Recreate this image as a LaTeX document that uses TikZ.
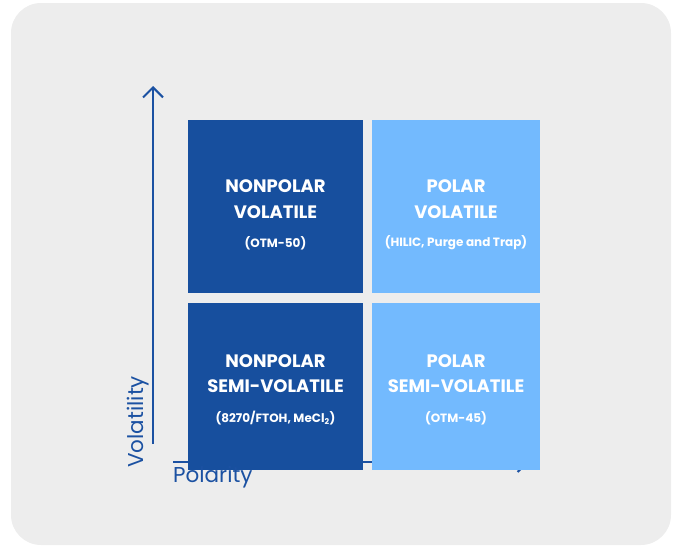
\documentclass[tikz,border=0pt]{standalone}
\usepackage{fontspec}
\setmainfont{Poppins}
\usetikzlibrary{arrows.meta}
\definecolor{card}{HTML}{EDEDED}
\definecolor{darkq}{HTML}{174F9E}
\definecolor{lightq}{HTML}{73BAFE}
\definecolor{axisc}{HTML}{1B51A2}
\tikzset{
  quad/.style={draw=none,minimum width=175pt,minimum height=173pt,inner sep=0pt},
  ttl/.style={text=white,font=\fontsize{18}{20}\selectfont\bfseries,inner sep=0pt},
  sub/.style={text=white,font=\fontsize{12}{14}\selectfont\bfseries,inner sep=0pt},
  axis/.style={draw=axisc,line width=2pt},
  axlab/.style={text=axisc,font=\fontsize{21.5}{24}\selectfont,inner sep=0pt}
}
\begin{document}
\begin{tikzpicture}[x=1pt,y=-1pt]
\useasboundingbox (0,0) rectangle (678,546);
\fill[card,rounded corners=30pt] (11,3) rectangle (671,545);
% axes
\coordinate (yb) at (153,444);
\coordinate (yt) at (153,86);
\coordinate (xl) at (173,462);
\coordinate (xr) at (529,462);
\draw[axis,-{Straight Barb[length=10pt,width=20pt]}] (yb) -- (yt);
\draw[axis,-{Straight Barb[length=10pt,width=20pt]}] (xl) -- (xr);
% quadrants
\node[quad,fill=darkq]  (q1) at (275.5,206.5) {};
\node[quad,fill=lightq,minimum width=168pt] (q2) at (456,206.5) {};
\node[quad,fill=darkq,minimum height=167pt]  (q3) at (275.5,386.5) {};
\node[quad,fill=lightq,minimum width=168pt,minimum height=167pt] (q4) at (456,386.5) {};
% texts
\node[ttl] (t1a) at ([yshift=20.5pt]q1.center) {NONPOLAR};
\node[ttl] (t1b) at ([yshift=-5.5pt]q1.center) {VOLATILE};
\node[sub] (t1c) at ([yshift=-36.5pt]q1.center) {(OTM-50)};
\node[ttl] (t2a) at ([yshift=20.5pt]q2.center) {POLAR};
\node[ttl] (t2b) at ([yshift=-5.5pt]q2.center) {VOLATILE};
\node[sub] (t2c) at ([yshift=-36.5pt]q2.center) {(HILIC, Purge and Trap)};
\node[ttl] (t3a) at ([yshift=25.5pt]q3.center) {NONPOLAR};
\node[ttl] (t3b) at ([yshift=0.5pt]q3.center) {SEMI-VOLATILE};
\node[sub] (t3c) at ([yshift=-31.5pt]q3.center) {(8270/FTOH, MeCl\textsubscript{2})};
\node[ttl] (t4a) at ([yshift=25.5pt]q4.center) {POLAR};
\node[ttl] (t4b) at ([yshift=0.5pt]q4.center) {SEMI-VOLATILE};
\node[sub] (t4c) at ([yshift=-31.5pt]q4.center) {(OTM-45)};
% axis labels
\node[axlab,anchor=west] (px) at (173,477) {Polarity};
\node[axlab,rotate=90,anchor=west] (vy) at (138,468) {Volatility};
\end{tikzpicture}
\end{document}
